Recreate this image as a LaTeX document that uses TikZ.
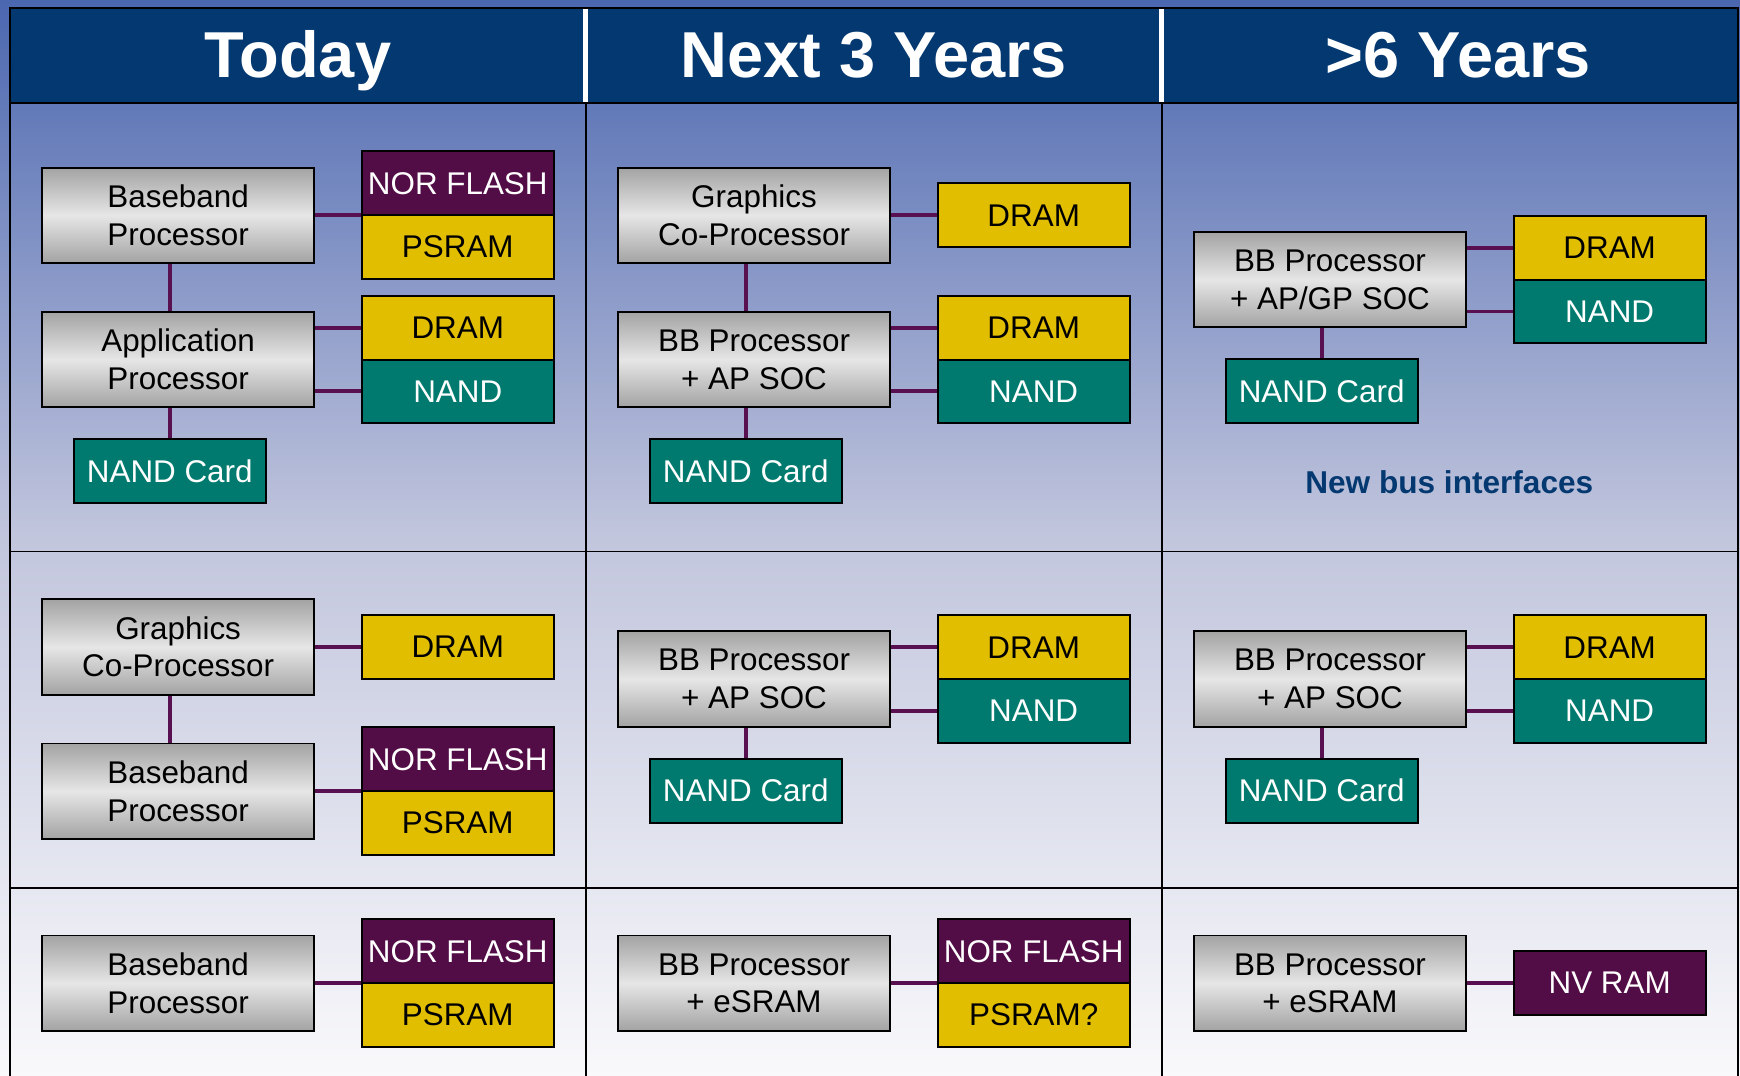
\documentclass[tikz,border=0pt]{standalone}
\usepackage{fontspec}
\setmainfont{Liberation Sans}
\usetikzlibrary{positioning}

\definecolor{bgtop}{RGB}{75,103,176}
\definecolor{bgmid}{RGB}{194,198,221}
\definecolor{bgbot}{RGB}{249,249,251}
\definecolor{headblue}{RGB}{4,56,112}
\definecolor{norpurple}{RGB}{82,12,70}
\definecolor{ramyellow}{RGB}{225,190,0}
\definecolor{nandteal}{RGB}{0,122,110}
\definecolor{buspurple}{RGB}{88,16,80}
\definecolor{procedge}{RGB}{163,163,163}
\definecolor{procmid}{RGB}{230,230,230}

\tikzset{
  proc/.style={draw=black, line width=1pt, top color=procedge, bottom color=procedge,
    middle color=procmid, minimum width=4.9cm, minimum height=1.72cm, inner sep=0pt,
    align=center, font=\fontsize{16.1}{19.3}\selectfont},
  mem/.style={draw=black, line width=1pt, minimum width=3.46cm, minimum height=1.15cm,
    inner sep=0pt, font=\fontsize{16.1}{19.3}\selectfont},
  nor/.style={mem, fill=norpurple, text=white},
  ram/.style={mem, fill=ramyellow, text=black},
  nand/.style={mem, fill=nandteal, text=white},
  head/.style={anchor=base, text=white, font=\fontsize{33.3}{39}\selectfont\bfseries},
  bus/.style={draw=buspurple, line width=2pt},
  grid/.style={draw=black, line width=0.8pt}
}

\begin{document}
\begin{tikzpicture}

    %% background and table
    \useasboundingbox (0,0) rectangle (31.36,-19.38);
    \shade[top color=bgtop, bottom color=bgbot, middle color=bgmid] (0,0) rectangle (31.36,-19.38);
    \fill[headblue] (0.18,-0.14) rectangle (31.32,-1.86);
    \draw[grid] (0.18,-19.5) -- (0.18,-0.14) -- (31.32,-0.14) -- (31.32,-19.5);
    \draw[grid] (0.18,-1.86) -- (31.32,-1.86);
    \draw[grid] (0.18,-9.94) -- (31.32,-9.94);
    \draw[grid] (0.18,-16.00) -- (31.32,-16.00);
    \draw[grid] (10.56,-1.86) -- (10.56,-19.5);
    \draw[grid] (20.94,-1.86) -- (20.94,-19.5);
    \draw[white, line width=2.5pt] (10.56,-0.16) -- (10.56,-1.84);
    \draw[white, line width=2.5pt] (20.94,-0.16) -- (20.94,-1.84);

    \node[head] (Today) at (5.37,-1.40) {Today};
    \node[head] (NextThree) at (15.75,-1.40) {Next 3 Years};
    \node[head] (SixYears) at (26.28,-1.40) {>6 Years};

    %% today, first row
    \node[proc] (BBa) at (3.21,-3.88) {Baseband\\Processor};
    \node[nor] (NORa) [node distance=5.04cm, right of=BBa, yshift=0.575cm] {NOR FLASH};
    \node[ram] (PSRAMa) [node distance=1.15cm, below of=NORa] {PSRAM};
    \node[proc] (APa) at (3.21,-6.48) {Application\\Processor};
    \node[ram] (DRAMa) [node distance=5.04cm, right of=APa, yshift=0.575cm] {DRAM};
    \node[nand] (NANDa) [node distance=1.15cm, below of=DRAMa] {NAND};
    \node[nand] (CARDa) [node distance=2.01cm, below of=APa, xshift=-0.15cm] {NAND Card};

    %% next 3 years, first row
    \node[proc] (GCPb) at (13.59,-3.88) {Graphics\\Co-Processor};
    \node[ram] (DRAMb) [node distance=5.04cm, right of=GCPb] {DRAM};
    \node[proc] (SOCb) at (13.59,-6.48) {BB Processor\\+ AP SOC};
    \node[ram] (DRAMbb) [node distance=5.04cm, right of=SOCb, yshift=0.575cm] {DRAM};
    \node[nand] (NANDb) [node distance=1.15cm, below of=DRAMbb] {NAND};
    \node[nand] (CARDb) [node distance=2.01cm, below of=SOCb, xshift=-0.15cm] {NAND Card};

    %% >6 years, first row
    \node[proc] (SOCc) at (23.97,-5.04) {BB Processor\\+ AP/GP SOC};
    \node[ram] (DRAMc) [node distance=5.04cm, right of=SOCc, yshift=0.575cm] {DRAM};
    \node[nand] (NANDc) [node distance=1.15cm, below of=DRAMc] {NAND};
    \node[nand] (CARDc) [node distance=2.01cm, below of=SOCc, xshift=-0.15cm] {NAND Card};
    \node[anchor=base, text=headblue, font=\fontsize{16.2}{19}\selectfont\bfseries] (NewBus) at (26.12,-8.90) {New bus interfaces};

    %% today, second row
    \node[proc] (GCPd) at (3.21,-11.66) {Graphics\\Co-Processor};
    \node[ram] (DRAMd) [node distance=5.04cm, right of=GCPd] {DRAM};
    \node[proc] (BBd) at (3.21,-14.26) {Baseband\\Processor};
    \node[nor] (NORd) [node distance=5.04cm, right of=BBd, yshift=0.575cm] {NOR FLASH};
    \node[ram] (PSRAMd) [node distance=1.15cm, below of=NORd] {PSRAM};

    %% next 3 years, second row
    \node[proc] (SOCe) at (13.59,-12.24) {BB Processor\\+ AP SOC};
    \node[ram] (DRAMe) [node distance=5.04cm, right of=SOCe, yshift=0.575cm] {DRAM};
    \node[nand] (NANDe) [node distance=1.15cm, below of=DRAMe] {NAND};
    \node[nand] (CARDe) [node distance=2.01cm, below of=SOCe, xshift=-0.15cm] {NAND Card};

    %% >6 years, second row
    \node[proc] (SOCf) at (23.97,-12.24) {BB Processor\\+ AP SOC};
    \node[ram] (DRAMf) [node distance=5.04cm, right of=SOCf, yshift=0.575cm] {DRAM};
    \node[nand] (NANDf) [node distance=1.15cm, below of=DRAMf] {NAND};
    \node[nand] (CARDf) [node distance=2.01cm, below of=SOCf, xshift=-0.15cm] {NAND Card};

    %% third row
    \node[proc] (BBg) at (3.21,-17.72) {Baseband\\Processor};
    \node[nor] (NORg) [node distance=5.04cm, right of=BBg, yshift=0.575cm] {NOR FLASH};
    \node[ram] (PSRAMg) [node distance=1.15cm, below of=NORg] {PSRAM};
    \node[proc] (ESh) at (13.59,-17.72) {BB Processor\\+ eSRAM};
    \node[nor] (NORh) [node distance=5.04cm, right of=ESh, yshift=0.575cm] {NOR FLASH};
    \node[ram] (PSRAMh) [node distance=1.15cm, below of=NORh] {PSRAM?};
    \node[proc] (ESi) at (23.97,-17.72) {BB Processor\\+ eSRAM};
    \node[nor] (NVRAMi) [node distance=5.04cm, right of=ESi] {NV RAM};

    %% buses
    \draw[bus] (BBa.east) -- (BBa.east -| NORa.west);
    \draw[bus] (CARDa.north |- BBa.south) -- (CARDa.north |- APa.north);
    \draw[bus] (DRAMa.west) -- (DRAMa.west -| APa.east);
    \draw[bus] (NANDa.west) -- (NANDa.west -| APa.east);
    \draw[bus] (CARDa.north) -- (CARDa.north |- APa.south);

    \draw[bus] (GCPb.east) -- (DRAMb.west);
    \draw[bus] (CARDb.north |- GCPb.south) -- (CARDb.north |- SOCb.north);
    \draw[bus] (DRAMbb.west) -- (DRAMbb.west -| SOCb.east);
    \draw[bus] (NANDb.west) -- (NANDb.west -| SOCb.east);
    \draw[bus] (CARDb.north) -- (CARDb.north |- SOCb.south);

    \draw[bus] (DRAMc.west) -- (DRAMc.west -| SOCc.east);
    \draw[bus] (NANDc.west) -- (NANDc.west -| SOCc.east);
    \draw[bus] (CARDc.north) -- (CARDc.north |- SOCc.south);

    \draw[bus] (GCPd.east) -- (DRAMd.west);
    \draw[bus] ([xshift=-0.15cm]GCPd.south) -- ([xshift=-0.15cm]BBd.north);
    \draw[bus] (BBd.east) -- (BBd.east -| NORd.west);

    \draw[bus] (DRAMe.west) -- (DRAMe.west -| SOCe.east);
    \draw[bus] (NANDe.west) -- (NANDe.west -| SOCe.east);
    \draw[bus] (CARDe.north) -- (CARDe.north |- SOCe.south);

    \draw[bus] (DRAMf.west) -- (DRAMf.west -| SOCf.east);
    \draw[bus] (NANDf.west) -- (NANDf.west -| SOCf.east);
    \draw[bus] (CARDf.north) -- (CARDf.north |- SOCf.south);

    \draw[bus] (BBg.east) -- (BBg.east -| NORg.west);
    \draw[bus] (ESh.east) -- (ESh.east -| NORh.west);
    \draw[bus] (ESi.east) -- (NVRAMi.west);

\end{tikzpicture}
\end{document}
